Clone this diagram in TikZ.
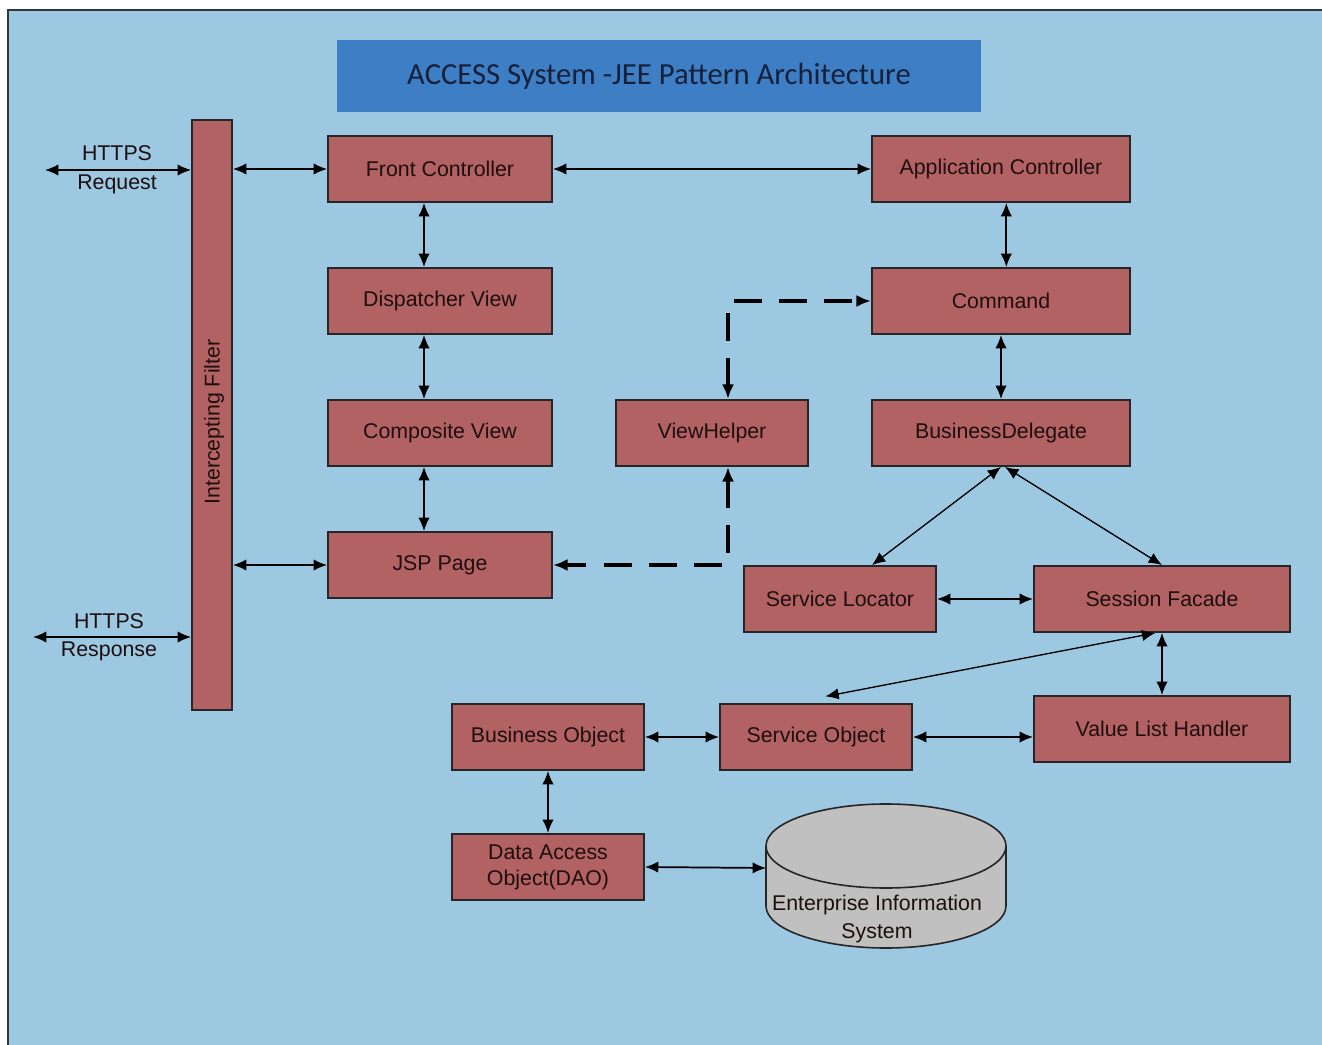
\documentclass[tikz,border=0pt]{standalone}
\usepackage{fontspec}
\setmainfont{Liberation Sans}
\newfontfamily\titlefont{Carlito}
\usetikzlibrary{arrows.meta}

\definecolor{bgblue}{RGB}{156,200,226}
\definecolor{boxred}{RGB}{178,98,98}
\definecolor{titleblue}{RGB}{61,126,196}
\definecolor{titleink}{RGB}{22,32,58}
\definecolor{eisgray}{RGB}{192,192,192}
\definecolor{ink}{RGB}{30,14,14}
\definecolor{frame}{RGB}{50,55,60}

\tikzset{
  box/.style={draw=black!85, line width=1.4pt, fill=boxred, minimum width=144pt,
    minimum height=49.5pt, inner sep=0pt, text=ink, align=center,
    font=\fontsize{16}{19.5}\selectfont},
  lbl/.style={inner sep=0pt, text=ink, align=center, font=\fontsize{16}{21}\selectfont},
  link/.style={line width=1.3pt, {Latex[length=10pt,width=8.5pt]}-{Latex[length=10pt,width=8.5pt]}},
  thinlink/.style={line width=1pt, {Latex[length=10pt,width=8.5pt]}-{Latex[length=10pt,width=8.5pt]}},
  dashlink/.style={line width=3pt, dash pattern=on 21pt off 13pt,
    {Latex[length=11pt,width=9pt]}-{Latex[length=11pt,width=9pt]}}
}

\begin{document}
\begin{tikzpicture}[x=0.75pt,y=-0.75pt]
\useasboundingbox (0,0) rectangle (1322,1045);

% canvas and frame
\fill[bgblue] (8,10) rectangle (1322,1045);
\draw[frame, line width=1.6pt] (8,1045) -- (8,10) -- (1322,10);

% title banner
\node[fill=titleblue, minimum width=483pt, minimum height=54pt, inner sep=0pt,
      text=titleink, font=\titlefont\fontsize{23}{27}\selectfont]
  (title) at (659,76) {ACCESS System -JEE Pattern Architecture};

% intercepting filter column
\node[box, minimum width=30pt, minimum height=442.5pt] (filter) at (212,415) {};
\node[lbl, rotate=90] (filtertext) at (214,422) {Intercepting Filter};

% presentation tier
\node[box, minimum width=168pt] (fc)  at (440,169) {Front Controller};
\node[box, minimum width=168pt] (dv)  at (440,301) {Dispatcher View};
\node[box, minimum width=168pt] (cv)  at (440,433) {Composite View};
\node[box, minimum width=168pt] (jsp) at (440,565) {JSP Page};
\node[box] (vh) at (712,433) {ViewHelper};

% controller / business tier
\node[box, minimum width=193.5pt] (ac)  at (1001,169) {Application Controller};
\node[box, minimum width=193.5pt] (cmd) at (1001,301) {Command};
\node[box, minimum width=193.5pt] (bd)  at (1001,433) {BusinessDelegate};
\node[box] (sl) at (840,599) {Service Locator};
\node[box, minimum width=192pt] (sf)  at (1162,599) {Session Facade};
\node[box, minimum width=192pt] (vlh) at (1162,729) {Value List Handler};
\node[box] (bo)  at (548,737) {Business Object};
\node[box] (so)  at (816,737) {Service Object};
\node[box] (dao) at (548,867) {Data Access\\Object(DAO)};

% enterprise information system (cylinder)
\draw[fill=eisgray, draw=black!85, line width=1.2pt]
  (766,846) -- (766,906) arc[start angle=180, end angle=360, x radius=90pt, y radius=31.5pt]
  -- (1006,846) arc[start angle=0, end angle=180, x radius=90pt, y radius=31.5pt] -- cycle;
\draw[black!85, line width=1.2pt]
  (766,846) arc[start angle=180, end angle=360, x radius=90pt, y radius=31.5pt];
\coordinate (eis) at (766,868);
\node[lbl] (eistext) at (877,919) {Enterprise Information\\System};

% HTTPS request / response
\coordinate (reqend) at (45,170);
\coordinate (resend) at (33,637);
\draw[link] (reqend) -- (filter.west |- reqend);
\draw[link] (resend) -- (filter.west |- resend);
\node[lbl] (reqtop) at (117,153) {HTTPS};
\node[lbl] (reqbot) at (117,184) {Request};
\node[lbl] (restop) at (109,621) {HTTPS};
\node[lbl] (resbot) at (109,651) {Response};

% filter to front controller and JSP page
\draw[link] (filter.east |- fc) -- (fc.west);
\draw[link] (filter.east |- jsp) -- (jsp.west);

% presentation chain
\draw[link] (fc.east) -- (ac.west);
\draw[link] ([xshift=-12pt]fc.south) -- ([xshift=-12pt]dv.north);
\draw[link] ([xshift=-12pt]dv.south) -- ([xshift=-12pt]cv.north);
\draw[link] ([xshift=-12pt]cv.south) -- ([xshift=-12pt]jsp.north);

% controller chain
\draw[link] ([xshift=4pt]ac.south) -- ([xshift=4pt]cmd.north);
\draw[link] (cmd.south) -- (bd.north);

% view helper dashed links
\draw[dashlink] ([xshift=12pt]vh.north) |- (cmd.west);
\draw[dashlink] ([xshift=12pt]vh.south) |- (jsp.east);

% business delegate fan-out
\draw[thinlink] (bd.south) -- ([xshift=24pt]sl.north);
\draw[thinlink] ([xshift=3pt]bd.south) -- (sf.north);
\draw[link] (sl.east) -- (sf.west);

% session facade links
\draw[thinlink] ([xshift=-5pt]sf.south) -- ([xshift=7pt,yshift=5pt]so.north);
\draw[link] (sf.south) -- (vlh.north);

% service object row
\draw[link] (bo.east) -- (so.west);
\draw[link] (so.east) -- (vlh.west |- so.east);

% data access
\draw[link] (bo.south) -- (dao.north);
\draw[link] (dao.east) -- (eis);

\end{tikzpicture}
\end{document}
